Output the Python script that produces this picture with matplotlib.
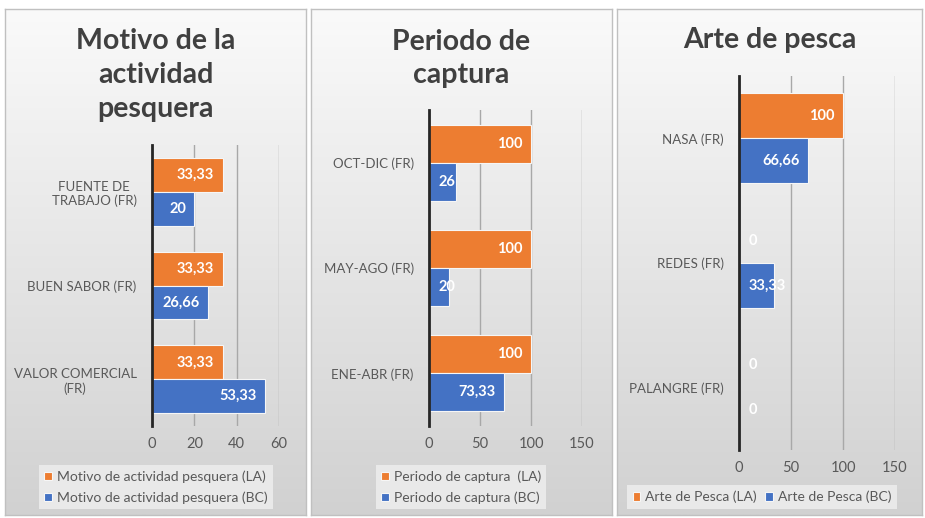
import matplotlib
matplotlib.use("Agg")
import matplotlib.pyplot as plt
import numpy as np
from matplotlib.colors import LinearSegmentedColormap

plt.rcParams['font.family'] = ['Lato', 'DejaVu Sans']

W, H = 925, 518

# data
motivo_cats = ["FUENTE DE\nTRABAJO (FR)", "BUEN SABOR (FR)", "VALOR COMERCIAL\n(FR)"]
motivo_la = [33.33, 33.33, 33.33]
motivo_bc = [20, 26.66, 53.33]

periodo_cats = ["OCT-DIC (FR)", "MAY-AGO (FR)", "ENE-ABR (FR)"]
periodo_la = [100, 100, 100]
periodo_bc = [26, 20, 73.33]

arte_cats = ["NASA (FR)", "REDES (FR)", "PALANGRE (FR)"]
arte_la = [100, 0, 0]
arte_bc = [66.66, 33.33, 0]

ORANGE = "#ED7D31"
BLUE = "#4472C4"
GREY_TXT = "#595959"

grad_cmap = LinearSegmentedColormap.from_list("g", ["#fafafa", "#d1d1d1"])


def px(x0, y0, x1, y1):
    # pixel box (top-left origin) -> figure fraction
    return [x0 / W, 1 - y1 / H, (x1 - x0) / W, (y1 - y0) / H]


def fmt(v):
    return ("%g" % v).replace(".", ",")


fig = plt.figure(figsize=(9.25, 5.18), dpi=100)
all_labels = []


def panel(rect, title, title_y, cats, la, bc, xmax, xticks, ax_rect,
          names, leg_xy, ncol):
    bg = fig.add_axes(px(*rect), zorder=0)
    grad = np.linspace(0, 1, 256).reshape(-1, 1)
    bg.imshow(grad, aspect="auto", cmap=grad_cmap, extent=[0, 1, 0, 1],
              origin="upper")
    bg.set_xticks([])
    bg.set_yticks([])
    for s in bg.spines.values():
        s.set_color("#c0c0c0")
        s.set_linewidth(1)

    cx = (rect[0] + rect[2]) / 2 / W
    fig.text(cx, 1 - title_y / H, title, ha="center", va="center",
             fontsize=20.5, weight="bold", color="#404040", linespacing=1.37,
             zorder=5)

    ax = fig.add_axes(px(*ax_rect), zorder=2)
    ax.patch.set_alpha(0)
    y = np.arange(len(cats))[::-1]
    ax.barh(y + 0.18, la, height=0.36, color=ORANGE, edgecolor="#f6f6f6",
            linewidth=0.8, label=names[0], zorder=3)
    ax.barh(y - 0.18, bc, height=0.36, color=BLUE, edgecolor="#f6f6f6",
            linewidth=0.8, label=names[1], zorder=3)
    ax.set_xlim(0, xmax)
    ax.set_ylim(-0.5, len(cats) - 0.5)
    ax.set_xticks(xticks)
    ax.set_yticks(y, cats)
    for lbl in ax.get_yticklabels():
        lbl.set_multialignment("center")
    ax.tick_params(axis="y", length=0, pad=11, labelsize=9.5,
                   labelcolor=GREY_TXT)
    ax.tick_params(axis="x", length=0, pad=8, labelsize=10.5,
                   labelcolor=GREY_TXT)
    ax.grid(axis="x", color="#a8a8a8", linewidth=1)
    ax.set_axisbelow(True)
    for k in ["top", "right", "bottom"]:
        ax.spines[k].set_visible(False)
    ax.spines["left"].set_color("#262626")
    ax.spines["left"].set_linewidth(2)
    ax.spines["left"].set_zorder(4)

    for vals, off in [(la, 0.18), (bc, -0.18)]:
        for yy, v in zip(y, vals):
            t = ax.annotate(fmt(v), xy=(v, yy + off), xytext=(-6, 0),
                            textcoords="offset points", ha="right",
                            va="center", color="white", weight="bold",
                            fontsize=10.5, zorder=5)
            all_labels.append((ax, t, yy + off))

    leg = ax.legend(loc="center", bbox_to_anchor=(leg_xy[0] / W, 1 - leg_xy[1] / H),
                    bbox_transform=fig.transFigure, ncol=ncol, fontsize=10,
                    frameon=True, fancybox=False, handlelength=0.55,
                    handleheight=0.55, handletextpad=0.35, labelspacing=0.6,
                    columnspacing=0.6, borderpad=0.4, labelcolor=GREY_TXT)
    leg.get_frame().set_facecolor("#ececec")
    leg.get_frame().set_edgecolor("none")
    leg.get_frame().set_alpha(0.9)
    return ax


panel((5, 9, 306, 515), "Motivo de la\nactividad\npesquera", 75,
      motivo_cats, motivo_la, motivo_bc, 60, [0, 20, 40, 60],
      (152, 145, 279, 426),
      ["Motivo de actividad pesquera (LA)", "Motivo de actividad pesquera (BC)"],
      (156, 487), 1)

panel((311, 9, 612, 515), "Periodo de\ncaptura", 58.5,
      periodo_cats, periodo_la, periodo_bc, 150, [0, 50, 100, 150],
      (429, 110, 582, 426),
      ["Periodo de captura  (LA)", "Periodo de captura (BC)"],
      (461, 487), 1)

panel((617, 9, 922, 515), "Arte de pesca", 40,
      arte_cats, arte_la, arte_bc, 150, [0, 50, 100, 150],
      (739, 76, 895, 450),
      ["Arte de Pesca (LA)", "Arte de Pesca (BC)"],
      (762, 497), 2)

# labels that don't fit inside the bar go next to the axis, like Excel does
fig.canvas.draw()
r = fig.canvas.get_renderer()
for ax, t, yc in all_labels:
    bb = t.get_window_extent(r)
    x0 = ax.transData.transform((0, 0))[0]
    if bb.x0 < x0 + 8:
        t.xy = (0, yc)
        t.xyann = (7, 0)
        t.set_ha("left")

fig.savefig("out.png", dpi=100)
